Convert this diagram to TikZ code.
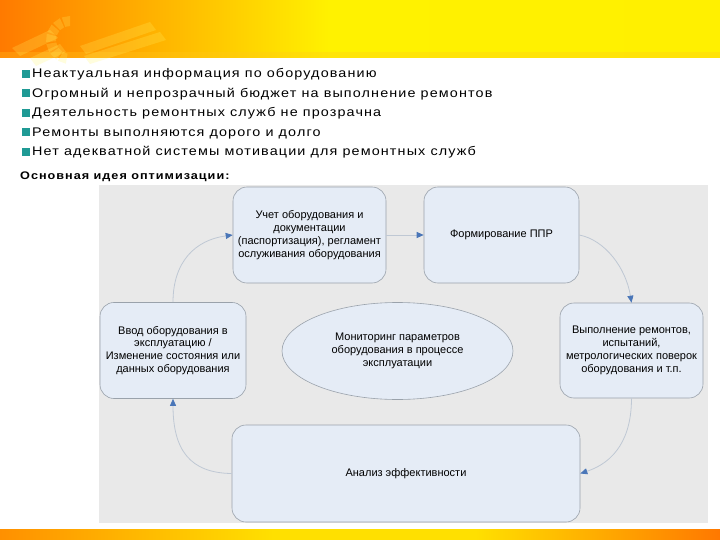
\documentclass[tikz,border=0pt]{standalone}
\usepackage{fontspec}
\setmainfont{Liberation Sans}
\usetikzlibrary{arrows.meta,shapes.geometric}
\definecolor{panelc}{HTML}{E9E9E9}
\definecolor{boxfill}{HTML}{E5ECF6}
\definecolor{boxdraw}{HTML}{9AA2AB}
\definecolor{linec}{HTML}{BFC8D4}
\definecolor{tipc}{HTML}{4A76B8}
\definecolor{bulc}{HTML}{1F9A95}
\definecolor{hO}{HTML}{FF7A00}
\definecolor{hA}{HTML}{FFB400}
\definecolor{hY}{HTML}{FFF200}
\definecolor{hY2}{HTML}{FFF000}
\definecolor{hB}{HTML}{FFC820}
\definecolor{fO}{HTML}{FF9000}
\definecolor{fY}{HTML}{FFE000}
\definecolor{fR}{HTML}{FF7800}
\pgfdeclarehorizontalshading{hdr}{100bp}{color(0bp)=(hO); color(25bp)=(hO); color(36bp)=(hA); color(48bp)=(hY); color(75bp)=(hY2); color(100bp)=(hY2)}
\pgfdeclarehorizontalshading{ftr}{100bp}{color(0bp)=(fO); color(25bp)=(fO); color(44bp)=(fY); color(58bp)=(fY); color(75bp)=(fR); color(100bp)=(fR)}
\tikzset{
  boxnode/.style={draw=boxdraw, fill=boxfill, rounded corners=14pt, inner sep=0pt, line width=0.6pt,
    align=center, font=\fontsize{11}{12.8}\selectfont},
  ellnode/.style={ellipse, draw=boxdraw, fill=boxfill, inner sep=0pt, line width=0.6pt,
    align=center, font=\fontsize{11}{12.8}\selectfont},
  conn/.style={draw=linec, line width=0.8pt, -{Triangle[length=7pt,width=6pt,color=tipc]}},
  bullet/.style={anchor=base west, inner sep=0pt, font=\fontsize{12.5}{14}\selectfont\addfontfeatures{FakeStretch=1.15,LetterSpace=9}},
  deco/.style={fill=yellow!60!white, opacity=0.22}
}
\newcommand{\bsq}{\textcolor{bulc}{\rule{8pt}{8pt}}\hspace{2pt}}
\begin{document}
\begin{tikzpicture}[x=1pt,y=-1pt]
\useasboundingbox (0,0) rectangle (720,540);
\fill[white] (0,0) rectangle (720,540);
% header
\shade[shading=hdr] (0,0) rectangle (720,58);
\fill[hB, opacity=0.3] (0,52) rectangle (720,58);
% header decoration
\begin{scope}[shift={(70,40)}]
  \foreach \a in {100,125,150,175,200,225,250} {
    \fill[deco] (\a:14) -- (\a:24) -- (\a+20:24) -- (\a+20:14) -- cycle;
  }
  \fill[deco] (-58,8) -- (-20,-10) -- (-12,-2) -- (-50,16) -- cycle;
  \fill[deco] (-40,18) -- (-10,4) -- (-4,12) -- (-34,26) -- cycle;
  \fill[deco] (10,6) -- (80,-18) -- (86,-10) -- (16,14) -- cycle;
  \fill[deco] (14,16) -- (90,-8) -- (96,0) -- (20,24) -- cycle;
\end{scope}
% footer
\shade[shading=ftr] (0,529) rectangle (720,540);
% bullets
\node[bullet] (l1) at (22,78) {\bsq Неактуальная информация по оборудованию};
\node[bullet] (l2) at (22,97.5) {\bsq Огромный и непрозрачный бюджет на выполнение ремонтов};
\node[bullet] (l3) at (22,117) {\bsq Деятельность ремонтных служб не прозрачна};
\node[bullet] (l4) at (22,136.5) {\bsq Ремонты выполняются дорого и долго};
\node[bullet] (l5) at (22,156) {\bsq Нет адекватной системы мотивации для ремонтных служб};
\node[anchor=base west, inner sep=0pt, font=\fontsize{11}{12}\selectfont\bfseries\addfontfeatures{FakeStretch=1.15,LetterSpace=9}] (ttl) at (20,180) {Основная идея оптимизации:};
% panel
\fill[panelc] (99,185) rectangle (708,523);
% nodes
\node[boxnode, minimum width=153pt, minimum height=96pt] (t1) at (309.5,235)
  {Учет оборудования и\\документации\\(паспортизация), регламент\\ослуживания оборудования};
\node[boxnode, minimum width=155pt, minimum height=96pt] (t2) at (501.5,235) {Формирование ППР};
\node[boxnode, minimum width=146pt, minimum height=96pt] (lb) at (173,350.5)
  {Ввод оборудования в\\эксплуатацию /\\Изменение состояния или\\данных оборудования};
\node[boxnode, minimum width=143pt, minimum height=95pt] (rb) at (631.5,350.5)
  {Выполнение ремонтов,\\испытаний,\\метрологических поверок\\оборудования и т.п.};
\node[boxnode, minimum width=348pt, minimum height=97pt] (bb) at (406,473.5) {Анализ эффективности};
\node[ellnode, minimum width=231pt, minimum height=97pt] (el) at (397.5,351)
  {Мониторинг параметров\\оборудования в процессе\\эксплуатации};
% connectors
\draw[conn] (lb.north) .. controls (173,262) and (195,240) .. (t1.west);
\draw[conn] (t1.east) -- (t2.west);
\draw[conn] (t2.east) .. controls (605,240) and (626,268) .. (rb.north);
\draw[conn] (rb.south) .. controls (631.5,438) and (615,462) .. (bb.east);
\draw[conn] (bb.west) .. controls (190,473) and (173,450) .. (lb.south);
\end{tikzpicture}
\end{document}
